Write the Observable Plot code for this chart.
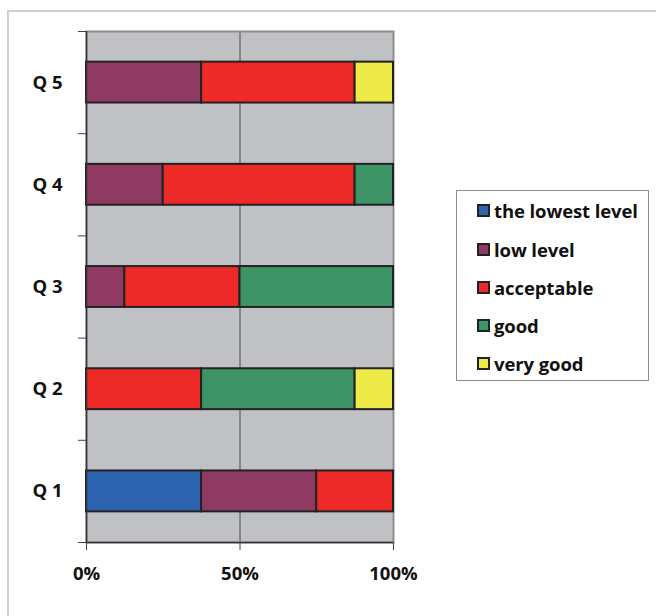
<!DOCTYPE html>
<html>
<head>
<meta charset="utf-8">
<script src="https://cdn.jsdelivr.net/npm/d3@7"></script>
<script src="https://cdn.jsdelivr.net/npm/@observablehq/plot@0.6"></script>
<style>
  html, body { margin: 0; padding: 0; background: #fff; }
  #wrap { position: relative; width: 656px; height: 616px; overflow: hidden; font-family: "Open Sans", sans-serif; }
  #frame { position: absolute; left: 7px; top: 10px; width: 700px; height: 700px; border-top: 2px solid #d0d0d4; border-left: 2px solid #d0d0d4; }
  #chart { position: absolute; left: 0; top: 0; }
  #chart svg text { font-family: "Open Sans", sans-serif; font-weight: 700; font-size: 18.5px; fill: #111; }
  #legend { position: absolute; left: 456px; top: 190px; width: 193px; height: 191px; border: 1px solid #8c8c8c; background: #fff; box-sizing: border-box; }
  .row { position: absolute; left: 20px; display: flex; align-items: center; font-weight: 700; font-size: 18.5px; color: #111; white-space: nowrap; letter-spacing: -0.1px; }
  .sw { width: 9px; height: 9px; border: 2px solid #222; margin-right: 4px; }
</style>
</head>
<body>
<div id="wrap"><div id="frame"></div><div id="chart"></div><div id="legend"></div></div>
<script>
const categories = ["Q 1", "Q 2", "Q 3", "Q 4", "Q 5"];
const levels = ["the lowest level", "low level", "acceptable", "good", "very good"];
const colors = ["#2c64b0", "#8e3a62", "#ee2a28", "#3d9466", "#eeea48"];
// percent share per category (Q1..Q5) for each level
const lowestLevel = [37.5, 0, 0, 0, 0];
const lowLevel    = [37.5, 0, 12.5, 25, 37.5];
const acceptable  = [25, 37.5, 37.5, 62.5, 50];
const good        = [0, 50, 50, 12.5, 0];
const veryGood    = [0, 12.5, 0, 0, 12.5];
const xTicks = [0, 50, 100];
const xTickLabels = ["0%", "50%", "100%"];

const series = [lowestLevel, lowLevel, acceptable, good, veryGood];
const rows = [];
categories.forEach((q, i) => {
  let acc = 0;
  series.forEach((s, k) => {
    const v = s[i];
    if (v > 0) rows.push({q, i, level: levels[k], x1: acc, x2: acc + v});
    acc += v;
  });
});

const boundaries = d3.range(categories.length + 1);
const centers = categories.map((_, i) => i + 0.5);

const chart = Plot.plot({
  width: 656,
  height: 616,
  marginLeft: 86,
  marginRight: 263,
  marginTop: 31,
  marginBottom: 74,
  style: {background: "transparent"},
  x: {domain: [0, 100]},
  y: {domain: [0, categories.length]},
  color: {domain: levels, range: colors},
  marks: [
    Plot.frame({fill: "#c0c1c5", stroke: null}),
    Plot.ruleX([50], {stroke: "#4a4a4a", strokeWidth: 1}),
    Plot.frame({stroke: "#8e8e8e", strokeWidth: 2}),
    Plot.rectX(rows, {x1: "x1", x2: "x2", y1: d => d.i + 0.3, y2: d => d.i + 0.7, fill: "level", stroke: "#222", strokeWidth: 2}),
    Plot.ruleX([0], {stroke: "#333", strokeWidth: 1.5}),
    Plot.ruleY([0], {stroke: "#333", strokeWidth: 1.5}),
    Plot.axisX({ticks: xTicks, tickFormat: (d, i) => xTickLabels[i], tickSize: 8, tickPadding: 16, stroke: "#444", label: null}),
    Plot.axisY({ticks: boundaries, tickFormat: () => "", tickSize: 8, stroke: "#444", label: null}),
    Plot.axisY({ticks: centers, tickFormat: (d, i) => categories[i], tickSize: 0, tickPadding: 24, label: null})
  ]
});
document.getElementById("chart").appendChild(chart);

const legend = document.getElementById("legend");
const rowTops = [19, 58, 96, 134, 172];
levels.forEach((l, k) => {
  const r = document.createElement("div");
  r.className = "row";
  r.style.top = (rowTops[k] - 11) + "px";
  r.style.height = "22px";
  const sw = document.createElement("div");
  sw.className = "sw";
  sw.style.background = colors[k];
  const t = document.createElement("span");
  t.textContent = l;
  r.appendChild(sw); r.appendChild(t);
  legend.appendChild(r);
});
</script>
</body>
</html>
